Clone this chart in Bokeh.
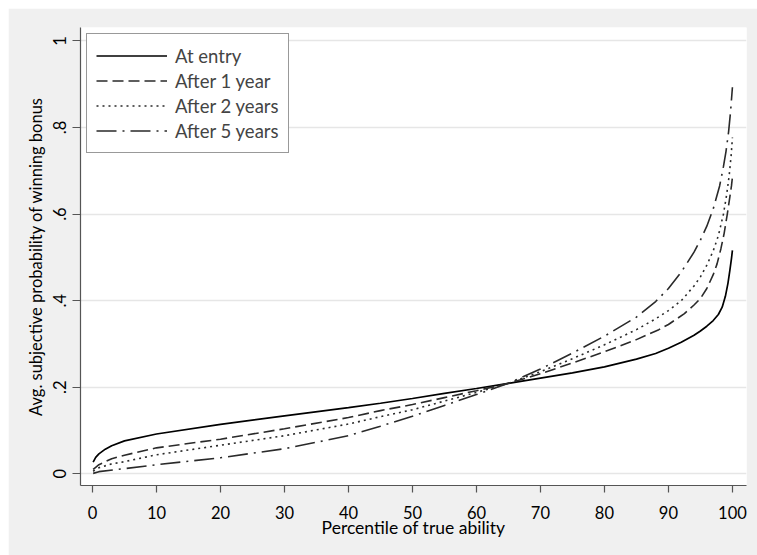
import math
from bokeh.plotting import figure
from bokeh.models import Range1d, FixedTicker, Legend, LegendItem
from bokeh.embed import file_html
from bokeh.resources import INLINE

# ---- data ----
x_entry = [0.1, 0.5, 1, 2, 3, 5, 10, 20, 30, 40, 45, 50, 55, 60, 65, 70, 75, 80, 85, 88, 90, 92, 94, 95, 96, 97, 97.8, 98.4, 98.9, 99.3, 99.6, 99.85, 100]
y_entry = [0.027, 0.038, 0.046, 0.057, 0.065, 0.076, 0.092, 0.114, 0.134, 0.153, 0.163, 0.174, 0.186, 0.197, 0.209, 0.221, 0.233, 0.247, 0.265, 0.278, 0.290, 0.304, 0.320, 0.330, 0.341, 0.354, 0.368, 0.385, 0.410, 0.440, 0.470, 0.497, 0.516]

x_1yr = [0.1, 0.5, 1, 3, 5, 10, 20, 30, 40, 45, 50, 55, 60, 65, 70, 75, 80, 85, 88.5, 90, 92.5, 94, 95, 96, 97, 97.6, 98.2, 98.7, 99.2, 99.6, 99.85, 100]
y_1yr = [0.010, 0.015, 0.021, 0.035, 0.043, 0.060, 0.080, 0.104, 0.130, 0.146, 0.160, 0.176, 0.192, 0.209, 0.231, 0.256, 0.282, 0.310, 0.333, 0.345, 0.370, 0.390, 0.405, 0.428, 0.460, 0.485, 0.520, 0.555, 0.600, 0.640, 0.665, 0.685]

x_2yr = [0.1, 0.5, 1, 3, 5, 10, 20, 30, 40, 45, 50, 55, 60, 65, 70, 75, 80, 85, 88, 90, 92, 94, 95, 96, 97, 97.8, 98.6, 99.1, 99.5, 99.8, 100]
y_2yr = [0.006, 0.010, 0.014, 0.023, 0.028, 0.044, 0.066, 0.088, 0.115, 0.132, 0.148, 0.168, 0.188, 0.209, 0.236, 0.266, 0.298, 0.333, 0.358, 0.377, 0.400, 0.434, 0.455, 0.482, 0.515, 0.550, 0.600, 0.645, 0.690, 0.735, 0.777]

x_5yr = [0.1, 1, 5, 10, 20, 30, 40, 45, 50, 55, 60, 65, 70, 75, 80, 85, 88, 90, 92, 94, 95, 96, 97, 98, 98.6, 99, 99.4, 99.7, 100]
y_5yr = [0.001, 0.005, 0.012, 0.021, 0.037, 0.058, 0.088, 0.110, 0.133, 0.158, 0.183, 0.209, 0.242, 0.279, 0.318, 0.362, 0.398, 0.428, 0.466, 0.512, 0.540, 0.572, 0.612, 0.665, 0.710, 0.745, 0.790, 0.835, 0.893]

series_names = ["At entry", "After 1 year", "After 2 years", "After 5 years"]

x_ticks = [0, 10, 20, 30, 40, 50, 60, 70, 80, 90, 100]
y_ticks = [0, 0.2, 0.4, 0.6, 0.8, 1]
y_tick_labels = ["0", ".2", ".4", ".6", ".8", "1"]

FONT = "Lato"

p = figure(width=749, height=547, output_backend="svg", toolbar_location=None,
           x_range=Range1d(-1.875, 102.2), y_range=Range1d(-0.027, 1.031),
           min_border_left=72, min_border_right=11, min_border_top=19, min_border_bottom=70)
p.margin = (8, 0, 0, 8)

p.background_fill_color = "white"
p.border_fill_color = "#f0f0f0"
p.outline_line_color = None

# grid
p.xgrid.grid_line_color = None
p.ygrid.ticker = FixedTicker(ticks=y_ticks)
p.ygrid.grid_line_color = "#e6e6e6"
p.ygrid.grid_line_width = 1.5

# axes
p.xaxis.ticker = FixedTicker(ticks=x_ticks)
p.yaxis.ticker = FixedTicker(ticks=y_ticks)
p.yaxis.major_label_overrides = {t: l for t, l in zip(y_ticks, y_tick_labels)}
p.yaxis.major_label_orientation = "parallel"
p.xaxis.axis_label = "Percentile of true ability"
p.yaxis.axis_label = "Avg. subjective probability of winning bonus"

for ax in (p.xaxis[0], p.yaxis[0]):
    ax.axis_line_color = "#555555"
    ax.axis_line_width = 1.2
    ax.major_tick_line_color = "#555555"
    ax.major_tick_line_width = 1.2
    ax.minor_tick_line_color = None
    ax.major_tick_in = 0
    ax.major_label_text_font = FONT
    ax.major_label_text_font_size = "16.5px"
    ax.major_label_text_color = "black"
    ax.axis_label_text_font = FONT
    ax.axis_label_text_font_style = "normal"
    ax.axis_label_text_color = "black"

p.xaxis.axis_label_text_font_size = "17.5px"
p.yaxis.axis_label_text_font_size = "16.5px"
p.xaxis.major_tick_out = 7
p.yaxis.major_tick_out = 8
p.xaxis.major_label_standoff = 13
p.yaxis.major_label_standoff = 6
p.xaxis.axis_label_standoff = -5
p.yaxis.axis_label_standoff = 5

# lines
r0 = p.line(x_entry, y_entry, line_color="black", line_width=1.7)
r1 = p.line(x_1yr, y_1yr, line_color="#2a2a2a", line_width=1.6, line_dash="11 5")
r2 = p.line(x_2yr, y_2yr, line_color="#2a2a2a", line_width=1.6, line_dash="2 4")
r3 = p.line(x_5yr, y_5yr, line_color="#2a2a2a", line_width=1.6, line_dash="20 6 2 6")

legend = Legend(items=[LegendItem(label=n, renderers=[r]) for n, r in zip(series_names, [r0, r1, r2, r3])],
                location="top_left")
legend.margin = 6
legend.padding = 9
legend.spacing = 0
legend.glyph_width = 71
legend.glyph_height = 25
legend.label_height = 25
legend.label_standoff = 8
legend.label_text_font = FONT
legend.label_text_font_size = "18.5px"
legend.border_line_color = "#333333"
legend.border_line_width = 1
legend.background_fill_color = "white"
legend.background_fill_alpha = 1
p.add_layout(legend, "center")

open("out.html", "w").write(file_html(p, INLINE))
